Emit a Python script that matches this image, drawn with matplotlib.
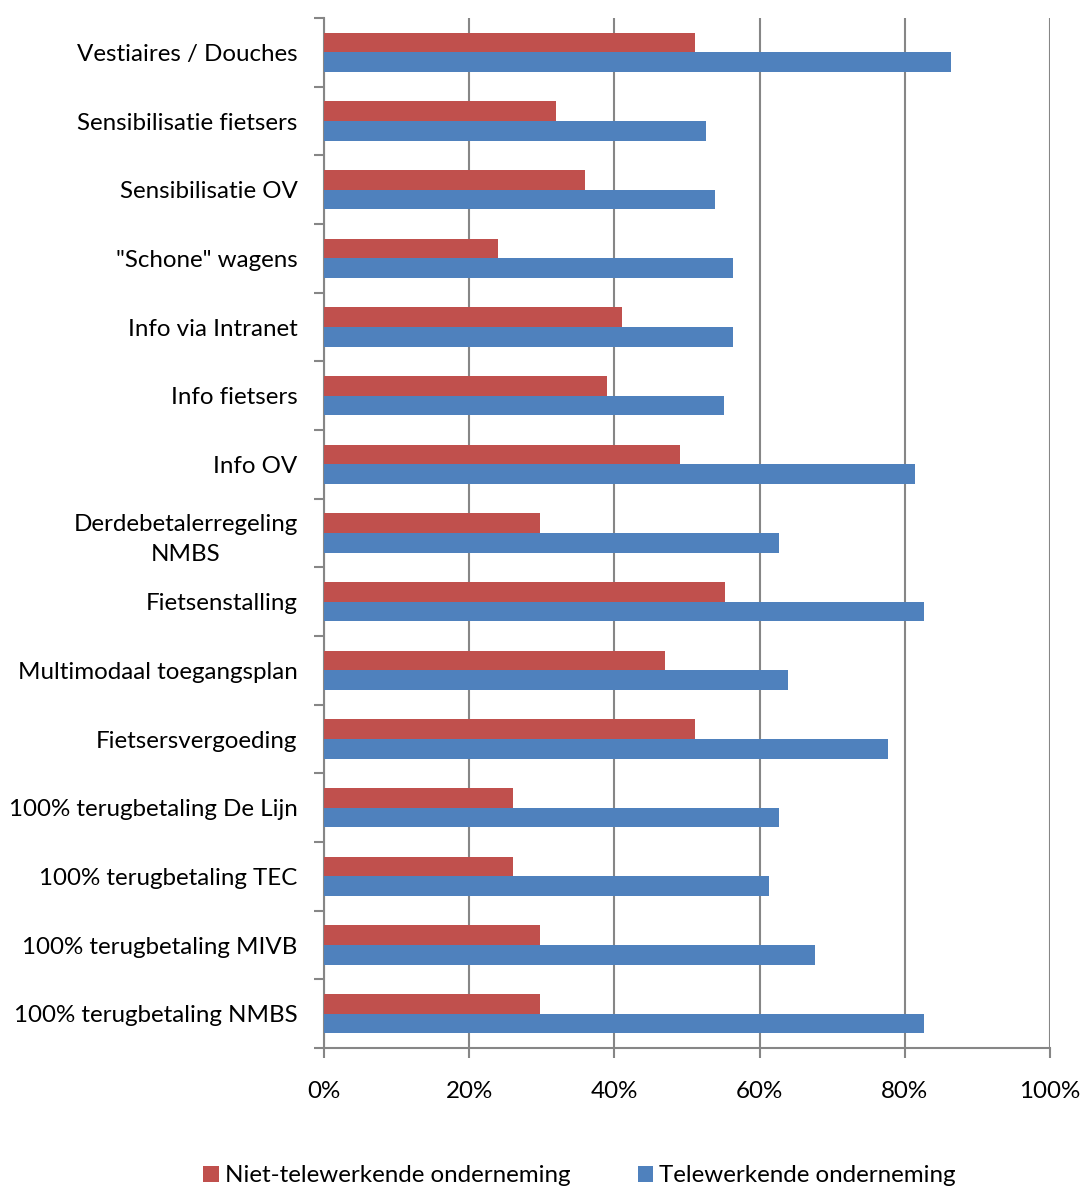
import matplotlib.pyplot as plt
import numpy as np

plt.rcParams['font.family'] = ['Lato', 'DejaVu Sans']

categories = ['Vestiaires / Douches', 'Sensibilisatie fietsers', 'Sensibilisatie OV',
              '"Schone" wagens', 'Info via Intranet', 'Info fietsers', 'Info OV',
              'Derdebetalerregeling\nNMBS', 'Fietsenstalling', 'Multimodaal toegangsplan',
              'Fietsersvergoeding', '100% terugbetaling De Lijn', '100% terugbetaling TEC',
              '100% terugbetaling MIVB', '100% terugbetaling NMBS']
niet_tele = [51.1, 32.0, 36.0, 24.0, 41.0, 39.0, 49.0, 29.8, 55.3, 47.0, 51.1, 26.0, 26.0, 29.8, 29.8]
tele = [86.4, 52.6, 53.9, 56.3, 56.3, 55.1, 81.4, 62.7, 82.6, 63.9, 77.7, 62.7, 61.3, 67.6, 82.6]

red = '#c0504d'
blue = '#4f81bd'
fs = 17.4

fig = plt.figure(figsize=(10.83, 11.88), dpi=100)
ax = fig.add_axes([324 / 1083, 1 - 1048 / 1188, 726 / 1083, 1030 / 1188])

y = np.arange(len(categories))
h = 0.285
ax.barh(y - h / 2, niet_tele, height=h, color=red, label='Niet-telewerkende onderneming', zorder=3)
ax.barh(y + h / 2, tele, height=h, color=blue, label='Telewerkende onderneming', zorder=3)

ax.set_xlim(0, 100)
ax.set_ylim(len(categories) - 0.5, -0.5)
ax.set_xticks(np.arange(0, 101, 20))
ax.set_xticklabels([f'{v}%' for v in range(0, 101, 20)], fontsize=fs)
ax.set_yticks(y)
ax.set_yticklabels(categories, fontsize=fs, ha='right', multialignment='center', linespacing=1.55)
ax.set_yticks(np.arange(-0.5, len(categories), 1), minor=True)

ax.tick_params(axis='y', which='major', length=0, pad=19)
ax.tick_params(axis='y', which='minor', length=7, color='#868686', direction='out', width=1.5)
ax.tick_params(axis='x', length=7, color='#868686', direction='out', width=1.5, pad=17)

ax.grid(axis='x', color='#868686', linewidth=1.5, zorder=0)
for s in ['top', 'right']:
    ax.spines[s].set_visible(False)
for s in ['left', 'bottom']:
    ax.spines[s].set_color('#868686')
    ax.spines[s].set_linewidth(1.5)

fig.legend(loc='lower center', bbox_to_anchor=(0.535, -0.017), ncol=2, frameon=False,
           fontsize=fs, handlelength=0.65, handleheight=0.65, handletextpad=0.25, columnspacing=2.8)

fig.savefig('out.png', dpi=100)
